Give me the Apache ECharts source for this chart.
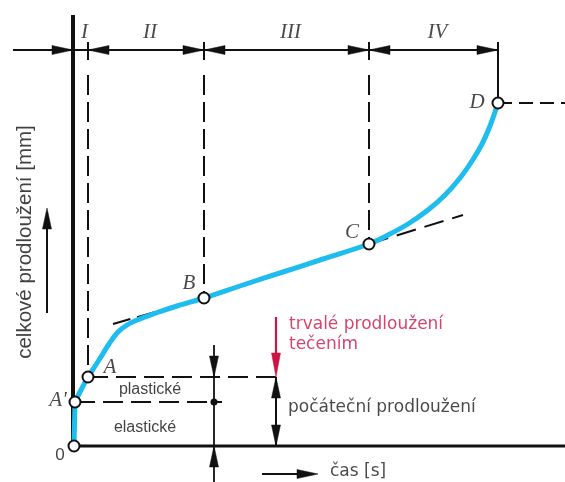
<!DOCTYPE html>
<html>
<head>
<meta charset="utf-8">
<script src="https://cdn.jsdelivr.net/npm/echarts@6/dist/echarts.min.js"></script>
<style>
html,body{margin:0;padding:0;background:#fff;}
#chart{width:565px;height:482px;}
</style>
</head>
<body>
<div id="chart"></div>
<script>
// ---- data (time units, elongation units; origin at O) ----
const curveTime  = [2, 8, 15, 26, 36, 45, 54, 64, 80, 104, 131, 170, 210, 250, 296, 315, 335, 355, 372, 387, 399, 409, 417, 425];
const curveElong = [44, 56, 69, 86, 102, 114, 121, 126, 132, 140, 148, 161, 174, 187, 202, 211, 222, 236, 251, 268, 285, 302, 320, 343];
const elasticTime  = [1, 2];
const elasticElong = [0, 44];
const keyNames = ['0', "A'", 'A', 'B', 'C', 'D'];
const keyTime  = [1, 2, 15, 131, 296, 425];
const keyElong = [0, 44, 69, 148, 202, 343];
const stageLabels = ['I', 'II', 'III', 'IV'];
const stageBounds = [0, 15, 131, 296, 425];
const tangentB = [[40, 122], [131, 148]];
const tangentC = [[296, 202], [390, 231]];
const axisX = [-73, 492];
const axisY = [-36, 446];

// ---- helpers ----
const BLACK = '#111111';
const RED = '#cc1546';
function seg(points, color, width, dash, z) {
  return {
    type: 'line', data: points, symbol: 'none', silent: true, animation: false,
    lineStyle: { color: color, width: width, type: dash || 'solid', cap: 'butt' },
    z: z || 2
  };
}
function pairs(xs, ys) { return xs.map((x, i) => [x, ys[i]]); }

const key = {}; keyNames.forEach((n, i) => key[n] = [keyTime[i], keyElong[i]]);
const dimY = 396, dashTop = 371, tickLo = 386, tickHi = 404;
const dimX = 141, arrX = 203;

const series = [];
// axes
series.push(seg([[0, 0], [0, 431]], BLACK, 4, null, 3));
series.push(seg([[0, 0], [axisX[1], 0]], BLACK, 3, null, 3));
// top dimension line
series.push(seg([[-60, dimY], [stageBounds[4], dimY]], BLACK, 2));
// vertical guides
[key['A'], key['B'], key['C']].forEach(p => {
  series.push(seg([[p[0], dashTop], [p[0], p[1]]], BLACK, 2, [20, 7]));
  series.push(seg([[p[0], tickLo], [p[0], tickHi]], BLACK, 2));
});
series.push(seg([[key['D'][0], tickHi], key['D']], BLACK, 2));
// horizontal guides
series.push(seg([key['A'], [210, key['A'][1]]], BLACK, 2, [20, 8]));
series.push(seg([key["A'"], [149, key["A'"][1]]], BLACK, 2, [20, 8]));
series.push(seg([key['D'], [axisX[1], key['D'][1]]], BLACK, 2, [14, 7]));
// tangents
series.push(seg(tangentB, BLACK, 2, [18, 7]));
series.push(seg(tangentC, BLACK, 2, [20, 9]));
// dimension lines lower
series.push(seg([[dimX, 101], [dimX, axisY[0]]], BLACK, 1.8));
series.push(seg([[arrX, 0], [arrX, key['A'][1]]], BLACK, 2));
series.push(seg([[arrX, 129], [arrX, key['A'][1] + 10]], RED, 2.2));
// y-direction arrow and time arrow
series.push(seg([[-26, 133], [-26, 225]], BLACK, 2));
series.push(seg([[189, -28], [235, -28]], BLACK, 2));

// curve
series.push({
  type: 'line', data: pairs(elasticTime, elasticElong), symbol: 'none', silent: true, animation: false,
  lineStyle: { color: '#1fbcef', width: 5, cap: 'round' }, z: 4
});
series.push({
  type: 'line', data: pairs(curveTime, curveElong), symbol: 'none', smooth: 0.35, silent: true, animation: false,
  lineStyle: { color: '#1fbcef', width: 5, cap: 'round', join: 'round' }, z: 4
});

// arrowheads: [tipX, tipY, dirX, dirY]
const blackHeads = [
  [0, dimY, 1, 0], [stageBounds[1], dimY, -1, 0],
  [stageBounds[2], dimY, 1, 0], [stageBounds[2], dimY, -1, 0],
  [stageBounds[3], dimY, 1, 0], [stageBounds[3], dimY, -1, 0],
  [stageBounds[4], dimY, 1, 0],
  [dimX, key['A'][1], 0, -1], [dimX, 0, 0, 1],
  [arrX, key['A'][1], 0, 1], [arrX, 0, 0, -1],
  [-26, 238, 0, 1], [245, -28, 1, 0]
];
const redHeads = [[arrX, key['A'][1], 0, -1]];
function heads(data, color, L, W) {
  return {
    type: 'custom', silent: true, animation: false, z: 5,
    data: data,
    renderItem: function (params, api) {
      const tip = api.coord([api.value(0), api.value(1)]);
      const dx = api.value(2), dy = -api.value(3);
      const nx = -dy, ny = dx;
      const bx = tip[0] - dx * L, by = tip[1] - dy * L;
      return {
        type: 'polygon',
        shape: { points: [tip, [bx + nx * W, by + ny * W], [bx - nx * W, by - ny * W]] },
        style: { fill: color, stroke: color, lineWidth: 0.5 }
      };
    }
  };
}
series.push(heads(blackHeads, BLACK, 21, 4.5));
series.push(heads(redHeads, RED, 24, 4.5));

// points
series.push({
  type: 'scatter', silent: true, animation: false, z: 6,
  data: keyNames.map(n => key[n]),
  symbol: 'circle', symbolSize: 11,
  itemStyle: { color: '#fff', borderColor: BLACK, borderWidth: 2, opacity: 1 }
});
series.push({
  type: 'scatter', silent: true, animation: false, z: 6,
  data: [[dimX, key["A'"][1]]], symbol: 'circle', symbolSize: 7,
  itemStyle: { color: BLACK, opacity: 1 }
});

// texts
const serif = { fontFamily: 'Liberation Serif', fontStyle: 'italic', fontSize: 21, color: '#1a1a1a' };
const sans = { fontFamily: 'Liberation Sans', fontSize: 16, color: '#111' };
const dv = { fontFamily: 'DejaVu Sans', fontSize: 17, color: '#1a1a1a' };
const texts = [];
stageLabels.forEach((s, i) => {
  texts.push({ value: [(stageBounds[i] + stageBounds[i + 1]) / 2 + 4, 414], name: s, label: serif });
});
const keyLabelPos = { '0': [-13, -9], "A'": [-15, 46], 'A': [37, 79], 'B': [116, 163], 'C': [279, 214], 'D': [404, 344] };
keyNames.forEach(n => {
  texts.push({ value: keyLabelPos[n], name: n, label: n === '0' ? Object.assign({}, sans, { fontSize: 17 }) : serif });
});
texts.push({ value: [77, 56], name: 'plastické', label: sans });
texts.push({ value: [72, 18], name: 'elastické', label: sans });
texts.push({ value: [216, 121], name: 'trvalé prodloužení', label: Object.assign({}, dv, { color: RED, align: 'left' }) });
texts.push({ value: [216, 101], name: 'tečením', label: Object.assign({}, dv, { color: RED, align: 'left' }) });
texts.push({ value: [215, 38], name: 'počáteční prodloužení', label: Object.assign({}, dv, { align: 'left' }) });
texts.push({ value: [257, -26], name: 'čas [s]', label: Object.assign({}, dv, { align: 'left' }) });
texts.push({ value: [-48, 204], name: 'celkové prodloužení [mm]', label: Object.assign({}, sans, { fontSize: 20.5, rotate: 90, color: '#111' }) });

series.push({
  type: 'scatter', silent: true, animation: false, z: 7,
  symbolSize: 0,
  data: texts.map(t => ({
    value: t.value, name: t.name,
    label: Object.assign({ show: true, position: 'inside', formatter: '{b}', align: 'center', verticalAlign: 'middle' }, t.label)
  }))
});

const chart = echarts.init(document.getElementById('chart'), null, { renderer: 'canvas' });
chart.setOption({
  backgroundColor: '#fff',
  animation: false,
  grid: { left: 0, right: 0, top: 0, bottom: 0, containLabel: false },
  xAxis: { type: 'value', min: axisX[0], max: axisX[1], show: false },
  yAxis: { type: 'value', min: axisY[0], max: axisY[1], show: false },
  series: series
});
</script>
</body>
</html>
